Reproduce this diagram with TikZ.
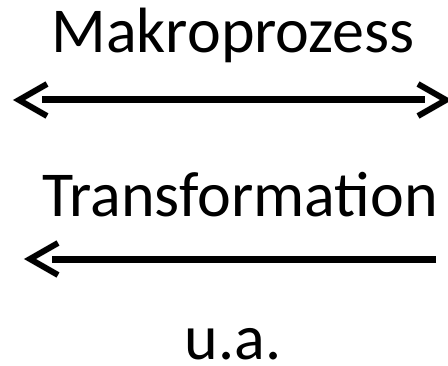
\documentclass[tikz,border=0pt]{standalone}
\usepackage{fontspec}
\setmainfont{Carlito}
\begin{document}
\begin{tikzpicture}[x=1pt,y=-1pt,
  lbl/.style={anchor=base,inner sep=0pt,font=\fontsize{64}{70}\selectfont},
  shaft/.style={line width=7pt},
  barb/.style={line width=6pt,line join=miter,miter limit=10}]
\useasboundingbox (0,0) rectangle (448,366);
\node[lbl] (t1) at (233,53) {Makroprozess};
\node[lbl] (t2) at (240,217) {Transformation};
\node[lbl] (t3) at (233,360) {u.a.};
% first arrow (double headed)
\coordinate (a1l) at (42,100);
\coordinate (a1r) at (425,100);
\draw[shaft] (a1l) -- (a1r);
\draw[barb] (47,84) -- (19,100) -- (47,116);
\draw[barb] (418,84) -- (446,100) -- (418,116);
% second arrow (left)
\coordinate (a2l) at (52,260);
\coordinate (a2r) at (436,260);
\draw[shaft] (a2r) -- (a2l);
\draw[barb] (58,243) -- (30,259) -- (58,275);
\end{tikzpicture}
\end{document}
